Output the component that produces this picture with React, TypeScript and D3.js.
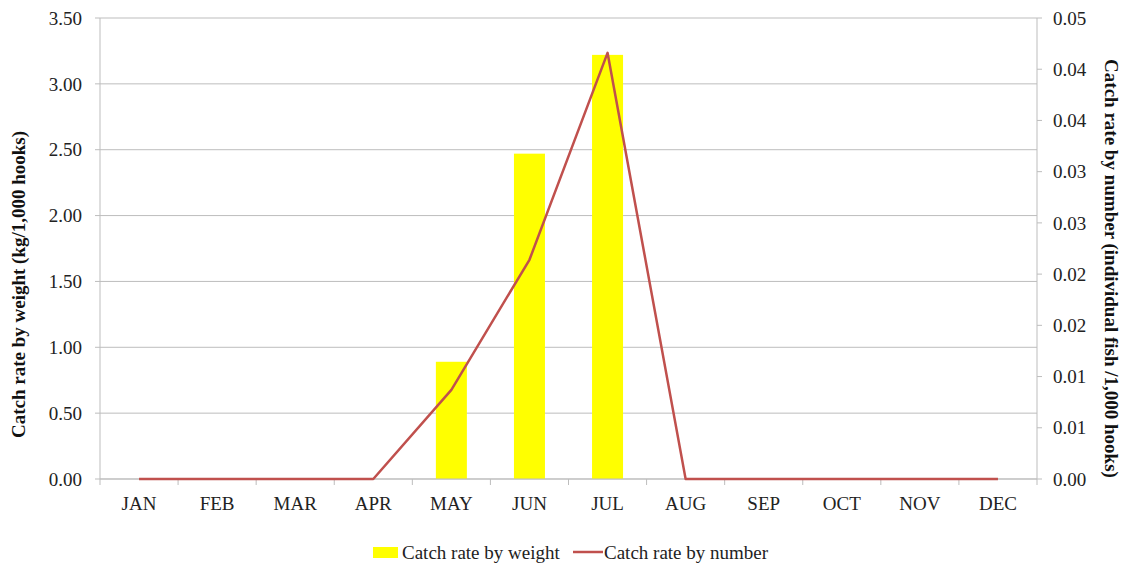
import React from "react";
import * as d3 from "d3";

const months = ["JAN","FEB","MAR","APR","MAY","JUN","JUL","AUG","SEP","OCT","NOV","DEC"];
const weightRate = [0, 0, 0, 0, 0.89, 2.47, 3.22, 0, 0, 0, 0, 0];
const numberRate = [0, 0, 0, 0, 0.0087, 0.0214, 0.0416, 0, 0, 0, 0, 0];
const leftTicks = [0, 0.5, 1, 1.5, 2, 2.5, 3, 3.5];
const rightTicks = [0, 0.005, 0.01, 0.015, 0.02, 0.025, 0.03, 0.035, 0.04, 0.045];

const W = 1131, H = 567;
const L = 100, R = 1037, T = 18, B = 479;
const font = "'Liberation Serif', 'Times New Roman', serif";
const FS = 19;

export default function App() {
  const x = d3.scaleBand<string>().domain(months).range([L, R]).paddingInner(0).paddingOuter(0);
  const yL = d3.scaleLinear().domain([0, 3.5]).range([B, T]);
  const yR = d3.scaleLinear().domain([0, 0.045]).range([B, T]);
  const barW = 31;
  const line = d3.line<number>()
    .x((_, i) => (x(months[i]) as number) + x.bandwidth() / 2)
    .y((d) => yR(d));
  const fmt = (v: number) => (Math.round(v * 100 + 1e-9) / 100).toFixed(2);
  return (
    <svg width={W} height={H} style={{ position: "absolute", left: 0, top: 0, background: "#fff" }} fontFamily={font}>
      {leftTicks.map((t) => (
        <line key={"g" + t} x1={L} x2={R} y1={yL(t)} y2={yL(t)} stroke="#bdbdbd" strokeWidth={1} />
      ))}
      {leftTicks.map((t) => (
        <g key={"l" + t}>
          <line x1={L - 5} x2={L} y1={yL(t)} y2={yL(t)} stroke="#bdbdbd" />
          <text x={82} y={yL(t)} dy="0.35em" textAnchor="end" fontSize={FS} fill="#222">{t.toFixed(2)}</text>
        </g>
      ))}
      {rightTicks.map((t) => (
        <g key={"r" + t}>
          <line x1={R} x2={R + 5} y1={yR(t)} y2={yR(t)} stroke="#bdbdbd" />
          <text x={1053} y={yR(t)} dy="0.35em" textAnchor="start" fontSize={FS} fill="#222">{fmt(t)}</text>
        </g>
      ))}
      {weightRate.map((v, i) => v > 0 ? (
        <rect key={"b" + i} x={(x(months[i]) as number) + x.bandwidth() / 2 - barW / 2} y={yL(v)} width={barW} height={B - yL(v)} fill="#ffff00" />
      ) : null)}
      <line x1={L} x2={L} y1={T} y2={B} stroke="#bdbdbd" />
      <line x1={R} x2={R} y1={T} y2={B} stroke="#bdbdbd" />
      <line x1={L} x2={R} y1={B} y2={B} stroke="#bdbdbd" />
      {months.map((m, i) => (
        <line key={"t" + m} x1={L + i * x.bandwidth()} x2={L + i * x.bandwidth()} y1={B} y2={B + 6} stroke="#bdbdbd" />
      ))}
      <line x1={R} x2={R} y1={B} y2={B + 6} stroke="#bdbdbd" />
      {months.map((m) => (
        <text key={"m" + m} x={(x(m) as number) + x.bandwidth() / 2} y={503} dy="0.35em" textAnchor="middle" fontSize={FS} fill="#222">{m}</text>
      ))}
      <path d={line(numberRate) || ""} fill="none" stroke="#c0504d" strokeWidth={2.5} strokeLinejoin="round" />
      <text transform={`translate(18, ${(T + B) / 2 + 36}) rotate(-90)`} dy="0.35em" textAnchor="middle" fontSize={FS} fontWeight="bold" fill="#111">Catch rate by weight (kg/1,000 hooks)</text>
      <text transform={`translate(1112, ${(T + B) / 2 + 20}) rotate(90)`} dy="0.35em" textAnchor="middle" fontSize={FS} fontWeight="bold" fill="#111">Catch rate by number (individual fish /1,000 hooks)</text>
      <rect x={373} y={547} width={25} height={11} fill="#ffff00" />
      <text x={402} y={552} dy="0.35em" fontSize={FS} fill="#222">Catch rate by weight</text>
      <line x1={573} x2={603} y1={552} y2={552} stroke="#c0504d" strokeWidth={2.5} />
      <text x={604} y={552} dy="0.35em" fontSize={FS} fill="#222">Catch rate by number</text>
    </svg>
  );
}
